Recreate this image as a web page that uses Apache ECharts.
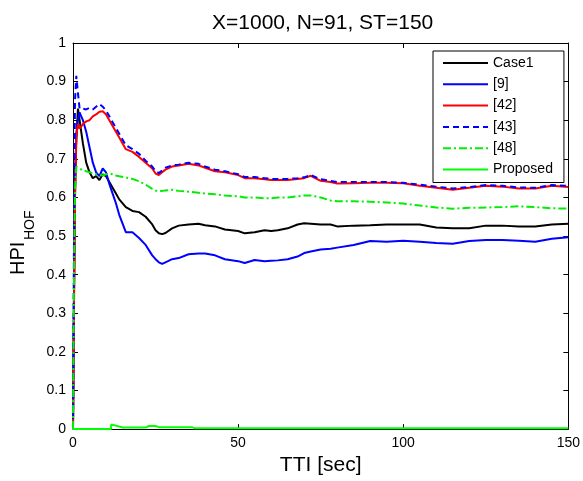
<!DOCTYPE html>
<html>
<head>
<meta charset="utf-8">
<script src="https://cdn.jsdelivr.net/npm/echarts@6/dist/echarts.min.js"></script>
<style>html,body{margin:0;padding:0;background:#fff;}#c{width:583px;height:481px;}</style>
</head>
<body>
<div id="c"></div>
<script>
var seriesNames = ['Case1', '[9]', '[42]', '[43]', '[48]', 'Proposed'];
var xTicks = [0, 50, 100, 150];
var yTicks = [0, 0.1, 0.2, 0.3, 0.4, 0.5, 0.6, 0.7, 0.8, 0.9, 1];

var T = [0, 0.3, 0.6, 1, 1.5, 2, 2.5, 3, 4, 5, 6, 7, 8, 9, 10, 11, 12, 13, 14, 16, 18, 20, 22, 24, 25, 26, 27, 28, 30, 32, 35, 38, 40, 43, 46, 50, 52, 55, 58, 60, 62, 65, 68, 70, 72, 75, 78, 80, 85, 90, 95, 100, 105, 110, 115, 120, 125, 130, 135, 140, 145, 150];

var case1 = [0, 0.35, 0.6, 0.75, 0.83, 0.8, 0.77, 0.74, 0.69, 0.665, 0.65, 0.655, 0.645, 0.66, 0.655, 0.64, 0.625, 0.61, 0.595, 0.575, 0.565, 0.562, 0.55, 0.53, 0.515, 0.507, 0.505, 0.508, 0.52, 0.527, 0.53, 0.532, 0.528, 0.525, 0.517, 0.513, 0.507, 0.51, 0.515, 0.513, 0.515, 0.52, 0.53, 0.533, 0.532, 0.53, 0.53, 0.525, 0.527, 0.528, 0.53, 0.53, 0.53, 0.522, 0.52, 0.52, 0.527, 0.527, 0.525, 0.525, 0.53, 0.532];

var ref9 = [0, 0.35, 0.65, 0.76, 0.8, 0.82, 0.81, 0.8, 0.77, 0.73, 0.69, 0.665, 0.655, 0.675, 0.665, 0.635, 0.61, 0.585, 0.555, 0.51, 0.51, 0.495, 0.477, 0.45, 0.44, 0.432, 0.428, 0.432, 0.44, 0.443, 0.453, 0.455, 0.455, 0.45, 0.44, 0.435, 0.43, 0.438, 0.435, 0.436, 0.437, 0.44, 0.447, 0.456, 0.46, 0.465, 0.467, 0.47, 0.477, 0.487, 0.485, 0.488, 0.485, 0.482, 0.48, 0.487, 0.49, 0.49, 0.488, 0.485, 0.493, 0.497];

var ref42 = [0, 0.3, 0.6, 0.76, 0.79, 0.778, 0.78, 0.79, 0.797, 0.8, 0.81, 0.815, 0.822, 0.823, 0.815, 0.8, 0.785, 0.77, 0.755, 0.725, 0.718, 0.705, 0.69, 0.675, 0.662, 0.658, 0.665, 0.672, 0.68, 0.683, 0.687, 0.683, 0.677, 0.668, 0.665, 0.658, 0.65, 0.65, 0.647, 0.645, 0.645, 0.645, 0.648, 0.65, 0.656, 0.643, 0.64, 0.636, 0.637, 0.638, 0.638, 0.637, 0.63, 0.625, 0.62, 0.625, 0.63, 0.628, 0.623, 0.623, 0.63, 0.627];

var ref43 = [0, 0.5, 0.85, 0.915, 0.87, 0.83, 0.825, 0.83, 0.828, 0.832, 0.828, 0.835, 0.842, 0.835, 0.825, 0.81, 0.795, 0.78, 0.765, 0.735, 0.725, 0.713, 0.695, 0.68, 0.668, 0.663, 0.67, 0.677, 0.683, 0.685, 0.69, 0.687, 0.68, 0.672, 0.668, 0.66, 0.653, 0.653, 0.65, 0.648, 0.648, 0.648, 0.65, 0.652, 0.658, 0.647, 0.643, 0.64, 0.64, 0.64, 0.64, 0.638, 0.633, 0.628, 0.623, 0.627, 0.632, 0.63, 0.626, 0.625, 0.632, 0.63];

var ref48 = [0, 0.4, 0.62, 0.68, 0.678, 0.675, 0.672, 0.67, 0.668, 0.665, 0.663, 0.66, 0.658, 0.657, 0.66, 0.662, 0.66, 0.657, 0.655, 0.652, 0.648, 0.642, 0.633, 0.622, 0.618, 0.617, 0.617, 0.618, 0.62, 0.617, 0.615, 0.612, 0.61, 0.608, 0.605, 0.603, 0.6, 0.6, 0.598, 0.598, 0.6, 0.6, 0.603, 0.605, 0.605, 0.6, 0.592, 0.59, 0.59, 0.589, 0.587, 0.584, 0.579, 0.574, 0.571, 0.573, 0.574, 0.575, 0.577, 0.575, 0.572, 0.571];

var tProposed = [0, 11.5, 11.6, 13, 15, 22, 23, 25, 26, 36, 37, 150];
var proposed = [0, 0, 0.012, 0.009, 0.004, 0.004, 0.008, 0.008, 0.005, 0.005, 0.002, 0.002];

function pairs(t, v) { return t.map(function (x, i) { return [x, v[i]]; }); }

var values = [case1, ref9, ref42, ref43, ref48];
var colors = ['#000000', '#0000ff', '#ff0000', '#0000ff', '#00ee00', '#00ff00'];
var types = ['solid', 'solid', 'solid', [6, 4], [8, 3, 2, 3], 'solid'];

var series = seriesNames.map(function (n, i) {
  return {
    name: n,
    type: 'line',
    symbol: 'none',
    animation: false,
    data: i < 5 ? pairs(T, values[i]) : pairs(tProposed, proposed),
    lineStyle: { color: colors[i], width: 2, type: types[i] },
    itemStyle: { color: colors[i] },
    z: 2 + i
  };
});

var font = 'Liberation Sans, Arial, sans-serif';
var tickCommon = { show: true, inside: true, length: 5, lineStyle: { color: '#000', width: 1 } };
function xAx(pos, showLabel) {
  return {
    type: 'value', position: pos, min: 0, max: 150, interval: 50,
    axisLine: { onZero: false, lineStyle: { color: '#000', width: 1 } },
    axisTick: tickCommon, splitLine: { show: false },
    axisLabel: { show: showLabel, color: '#000', fontSize: 14, fontFamily: font, margin: 7 }
  };
}
function yAx(pos, showLabel) {
  return {
    type: 'value', position: pos, min: 0, max: 1, interval: 0.1,
    axisLine: { onZero: false, lineStyle: { color: '#000', width: 1 } },
    axisTick: tickCommon, splitLine: { show: false },
    axisLabel: { show: showLabel, color: '#000', fontSize: 14, fontFamily: font, margin: 7,
      formatter: function (v) { return String(Math.round(v * 10) / 10); } }
  };
}
var xa = xAx('bottom', true);
xa.name = 'TTI [sec]';
xa.nameLocation = 'middle';
xa.nameGap = 20;
xa.nameTextStyle = { color: '#000', fontSize: 21, fontFamily: font, verticalAlign: 'top' };

var chart = echarts.init(document.getElementById('c'), null, { renderer: 'canvas' });
chart.setOption({
  backgroundColor: '#fff',
  animation: false,
  title: {
    text: 'X=1000, N=91, ST=150', left: 207, top: 8,
    textStyle: { color: '#000', fontSize: 21, fontWeight: 'normal', fontFamily: font }
  },
  grid: { left: 73, right: 14, top: 43, bottom: 46, containLabel: false },
  legend: {
    data: seriesNames, orient: 'vertical', left: 433, top: 51,
    itemWidth: 45, itemHeight: 14, itemGap: 7.3,
    padding: [5, 11, 6, 9],
    borderColor: '#000', borderWidth: 1, backgroundColor: '#fff',
    itemStyle: { opacity: 0 },
    lineStyle: { width: 2 },
    textStyle: { color: '#000', fontSize: 14, fontFamily: font },
    z: 20
  },
  xAxis: [xa, xAx('top', false)],
  yAxis: [yAx('left', true), yAx('right', false)],
  series: series,
  graphic: [{
    type: 'group', x: 18.5, y: 275, rotation: Math.PI / 2,
    children: [
      { type: 'text', x: 0, y: 0, style: { text: 'HPI', fill: '#000', font: '20px ' + font, textAlign: 'left', textVerticalAlign: 'middle' } },
      { type: 'text', x: 35, y: 11.5, style: { text: 'HOF', fill: '#000', font: '14px ' + font, textAlign: 'left', textVerticalAlign: 'middle' } }
    ]
  }]
});
</script>
</body>
</html>
